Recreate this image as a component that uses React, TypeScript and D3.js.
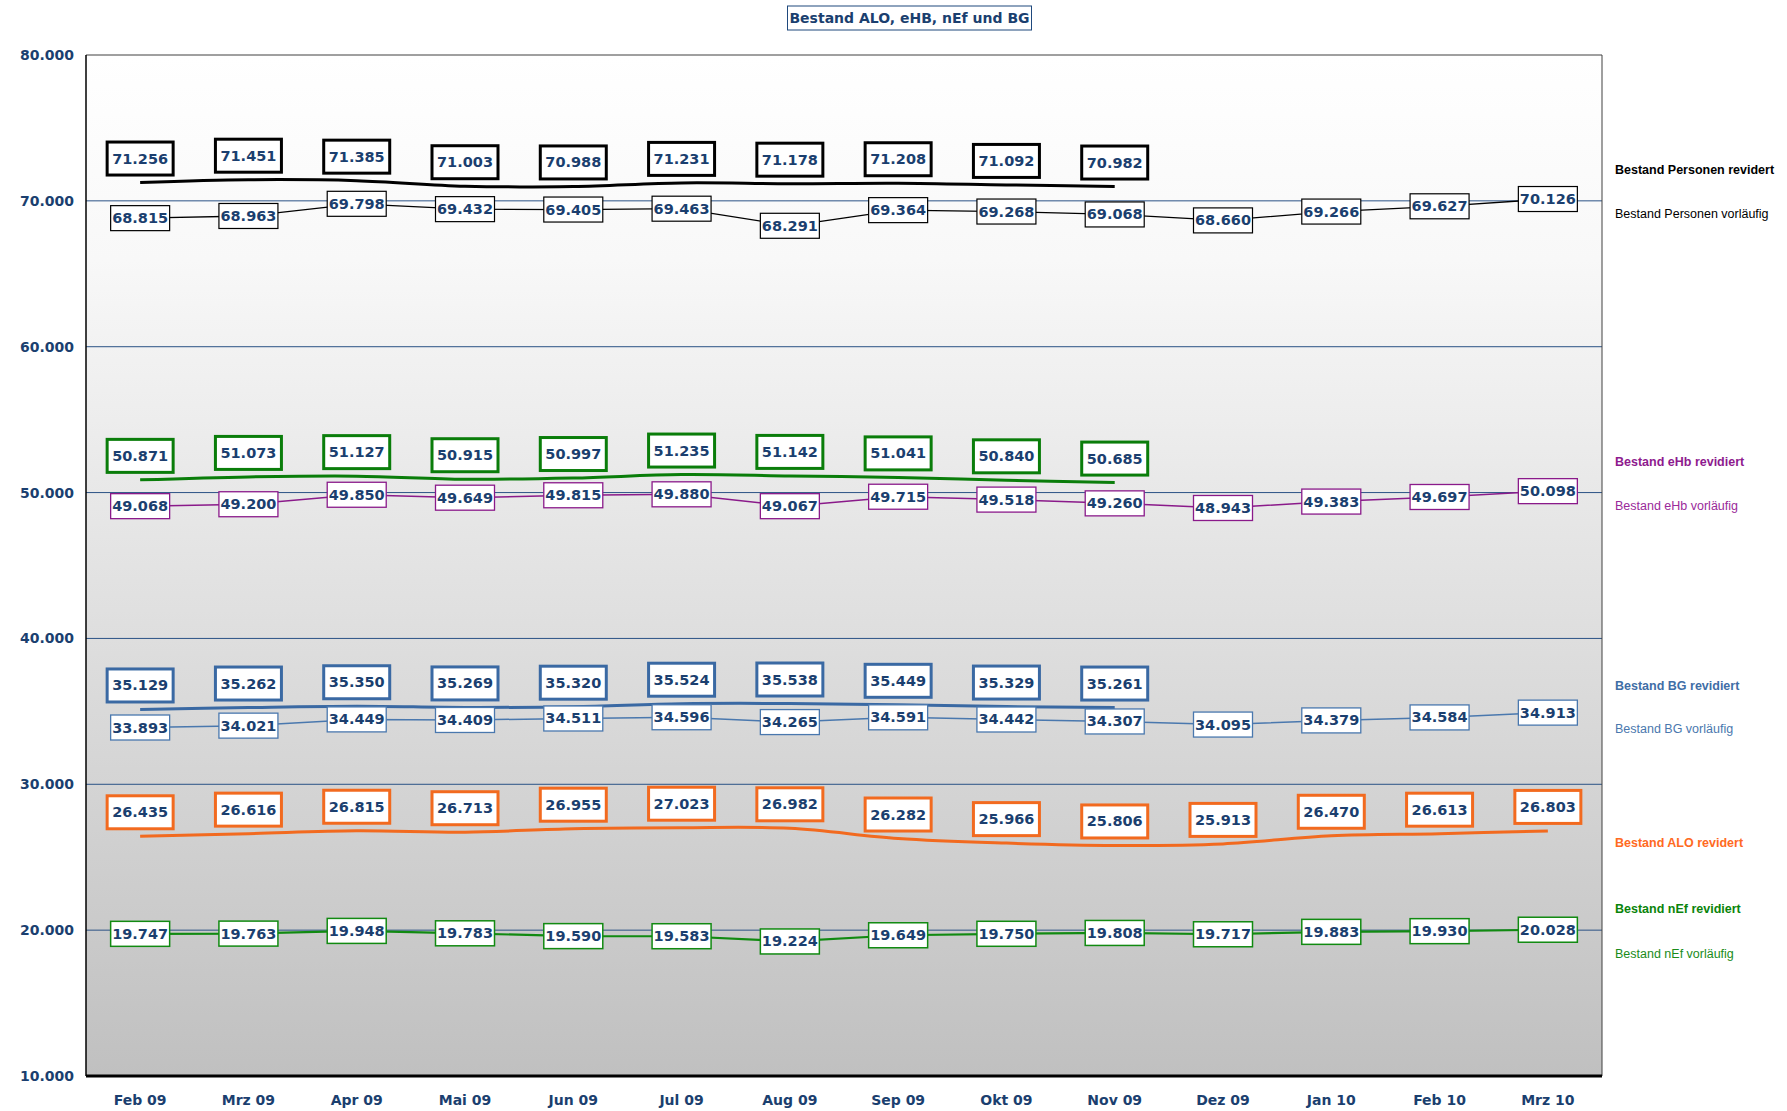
import React from "react";
import * as d3 from "d3";

// Monate (x-Achse)
const months = [
  "Feb 09", "Mrz 09", "Apr 09", "Mai 09", "Jun 09", "Jul 09", "Aug 09",
  "Sep 09", "Okt 09", "Nov 09", "Dez 09", "Jan 10", "Feb 10", "Mrz 10",
];
const yTicks = [10000, 20000, 30000, 40000, 50000, 60000, 70000, 80000];

// revidierte Werte (Feb 09 - Nov 09, ALO bis Mrz 10)
const personenRev = [71256, 71451, 71385, 71003, 70988, 71231, 71178, 71208, 71092, 70982];
const ehbRev = [50871, 51073, 51127, 50915, 50997, 51235, 51142, 51041, 50840, 50685];
const bgRev = [35129, 35262, 35350, 35269, 35320, 35524, 35538, 35449, 35329, 35261];
const aloRev = [26435, 26616, 26815, 26713, 26955, 27023, 26982, 26282, 25966, 25806, 25913, 26470, 26613, 26803];

// vorläufige Werte
const personenVorl = [68815, 68963, 69798, 69432, 69405, 69463, 68291, 69364, 69268, 69068, 68660, 69266, 69627, 70126];
const ehbVorl = [49068, 49200, 49850, 49649, 49815, 49880, 49067, 49715, 49518, 49260, 48943, 49383, 49697, 50098];
const bgVorl = [33893, 34021, 34449, 34409, 34511, 34596, 34265, 34591, 34442, 34307, 34095, 34379, 34584, 34913];
const nefVorl = [19747, 19763, 19948, 19783, 19590, 19583, 19224, 19649, 19750, 19808, 19717, 19883, 19930, 20028];

const legendItems = [
  { text: "Bestand Personen revidert", color: "#000000", bold: true, y: 170 },
  { text: "Bestand Personen vorläufig", color: "#000000", bold: false, y: 214 },
  { text: "Bestand eHb revidiert", color: "#8e1a8e", bold: true, y: 462 },
  { text: "Bestand eHb vorläufig", color: "#9a2a9a", bold: false, y: 506 },
  { text: "Bestand BG revidiert", color: "#3f6ea6", bold: true, y: 686 },
  { text: "Bestand BG vorläufig", color: "#4a78ae", bold: false, y: 729 },
  { text: "Bestand ALO revidert", color: "#ff6a22", bold: true, y: 843 },
  { text: "Bestand nEf revidiert", color: "#0a840a", bold: true, y: 909 },
  { text: "Bestand nEf vorläufig", color: "#1a8c1a", bold: false, y: 954 },
];

const navy = "#1b3f6f";
const labelFont = "'DejaVu Sans', Verdana, sans-serif";

const App = () => {
  const width = 1787;
  const height = 1111;
  const left = 86;
  const right = 1602;
  const top = 55;
  const bottom = 1076;

  const x = d3.scaleBand().domain(months).range([left, right]);
  const cx = (i: number) => (x(months[i]) as number) + x.bandwidth() / 2;
  const y = d3.scaleLinear().domain([10000, 80000]).range([bottom, top]);

  const de = d3.formatLocale({ decimal: ",", thousands: ".", grouping: [3], currency: ["", " €"] });
  const fmt = de.format(",.0f");

  const smooth = d3
    .line<number>()
    .x((_, i) => cx(i))
    .y((d) => y(d))
    .curve(d3.curveCatmullRom.alpha(0.5));
  const straight = d3
    .line<number>()
    .x((_, i) => cx(i))
    .y((d) => y(d));

  const revised = [
    { name: "personen", values: personenRev, color: "#000000" },
    { name: "ehb", values: ehbRev, color: "#0a7d0a" },
    { name: "bg", values: bgRev, color: "#3a69a3" },
    { name: "alo", values: aloRev, color: "#f26a1f" },
  ];
  const prelim = [
    { name: "personen", values: personenVorl, color: "#000000", lw: 1.3, bw: 1.2 },
    { name: "ehb", values: ehbVorl, color: "#8a1a8a", lw: 1.5, bw: 1.3 },
    { name: "bg", values: bgVorl, color: "#4a78ae", lw: 1.5, bw: 1.3 },
    { name: "nef", values: nefVorl, color: "#118a11", lw: 2.2, bw: 1.5 },
  ];

  const revW = 66;
  const revH = 33;
  const preW = 59;
  const preH = 25;

  return (
    <svg width={width} height={height} style={{ position: "absolute", left: 0, top: 0, background: "#fff" }}>
      <defs>
        <linearGradient id="bg" x1="0" y1="0" x2="0" y2="1">
          <stop offset="0" stopColor="#ffffff" />
          <stop offset="0.2" stopColor="#f8f8f8" />
          <stop offset="1" stopColor="#c0c0c0" />
        </linearGradient>
      </defs>

      {/* Zeichenfläche */}
      <rect x={left} y={top} width={right - left} height={bottom - top} fill="url(#bg)" />

      {/* Gitterlinien */}
      {yTicks.slice(1, -1).map((t) => (
        <line key={t} x1={left} x2={right} y1={y(t)} y2={y(t)} stroke="#2a5285" strokeWidth={1} />
      ))}

      {/* Rahmen */}
      <line x1={left} x2={right} y1={top} y2={top} stroke="#404040" strokeWidth={1} />
      <line x1={right} x2={right} y1={top} y2={bottom} stroke="#404040" strokeWidth={1} />
      <line x1={left} x2={left} y1={top} y2={bottom} stroke="#000" strokeWidth={1.5} />
      <line x1={left} x2={right} y1={bottom} y2={bottom} stroke="#000" strokeWidth={3} />

      {/* y-Achse */}
      {yTicks.map((t) => (
        <text key={t} x={74} y={y(t)} textAnchor="end" dominantBaseline="central"
          fontFamily={labelFont} fontWeight="bold" fontSize={14} fill={navy}>
          {fmt(t)}
        </text>
      ))}

      {/* x-Achse */}
      {months.map((m, i) => (
        <text key={m} x={cx(i)} y={1100} textAnchor="middle" dominantBaseline="central"
          fontFamily={labelFont} fontWeight="bold" fontSize={14} fill={navy}>
          {m}
        </text>
      ))}

      {/* vorläufige Linien */}
      {prelim.map((s) => (
        <path key={s.name} d={straight(s.values) || ""} fill="none" stroke={s.color} strokeWidth={s.lw} />
      ))}

      {/* revidierte Linien */}
      {revised.map((s) => (
        <path key={s.name} d={smooth(s.values) || ""} fill="none" stroke={s.color} strokeWidth={3} />
      ))}

      {/* vorläufige Beschriftung */}
      {prelim.map((s) =>
        s.values.map((v, i) => (
          <g key={s.name + i} transform={`translate(${cx(i)},${y(v)})`}>
            <rect x={-preW / 2} y={-preH / 2} width={preW} height={preH} fill="#fff" stroke={s.color} strokeWidth={s.bw} />
            <text textAnchor="middle" dominantBaseline="central" fontFamily={labelFont}
              fontWeight="bold" fontSize={14.5} fill={navy}>
              {fmt(v)}
            </text>
          </g>
        ))
      )}

      {/* revidierte Beschriftung */}
      {revised.map((s) =>
        s.values.map((v, i) => (
          <g key={s.name + i} transform={`translate(${cx(i)},${y(v) - 24})`}>
            <rect x={-revW / 2} y={-revH / 2} width={revW} height={revH} fill="#fff" stroke={s.color} strokeWidth={3} />
            <text textAnchor="middle" dominantBaseline="central" fontFamily={labelFont}
              fontWeight="bold" fontSize={14.5} fill={navy}>
              {fmt(v)}
            </text>
          </g>
        ))
      )}

      {/* Titel */}
      <rect x={787.5} y={6} width={244} height={24} fill="#fff" stroke="#1f497d" strokeWidth={1} />
      <text x={909.5} y={18} textAnchor="middle" dominantBaseline="central"
        fontFamily={labelFont} fontWeight="bold" fontSize={14} fill={navy}>
        Bestand ALO, eHB, nEf und BG
      </text>

      {/* Legende */}
      {legendItems.map((l) => (
        <text key={l.text} x={1615} y={l.y} dominantBaseline="central"
          fontFamily="'Liberation Sans', Arial, sans-serif" fontWeight={l.bold ? "bold" : "normal"}
          fontSize={12.5} fill={l.color}>
          {l.text}
        </text>
      ))}
    </svg>
  );
};

export default App;
